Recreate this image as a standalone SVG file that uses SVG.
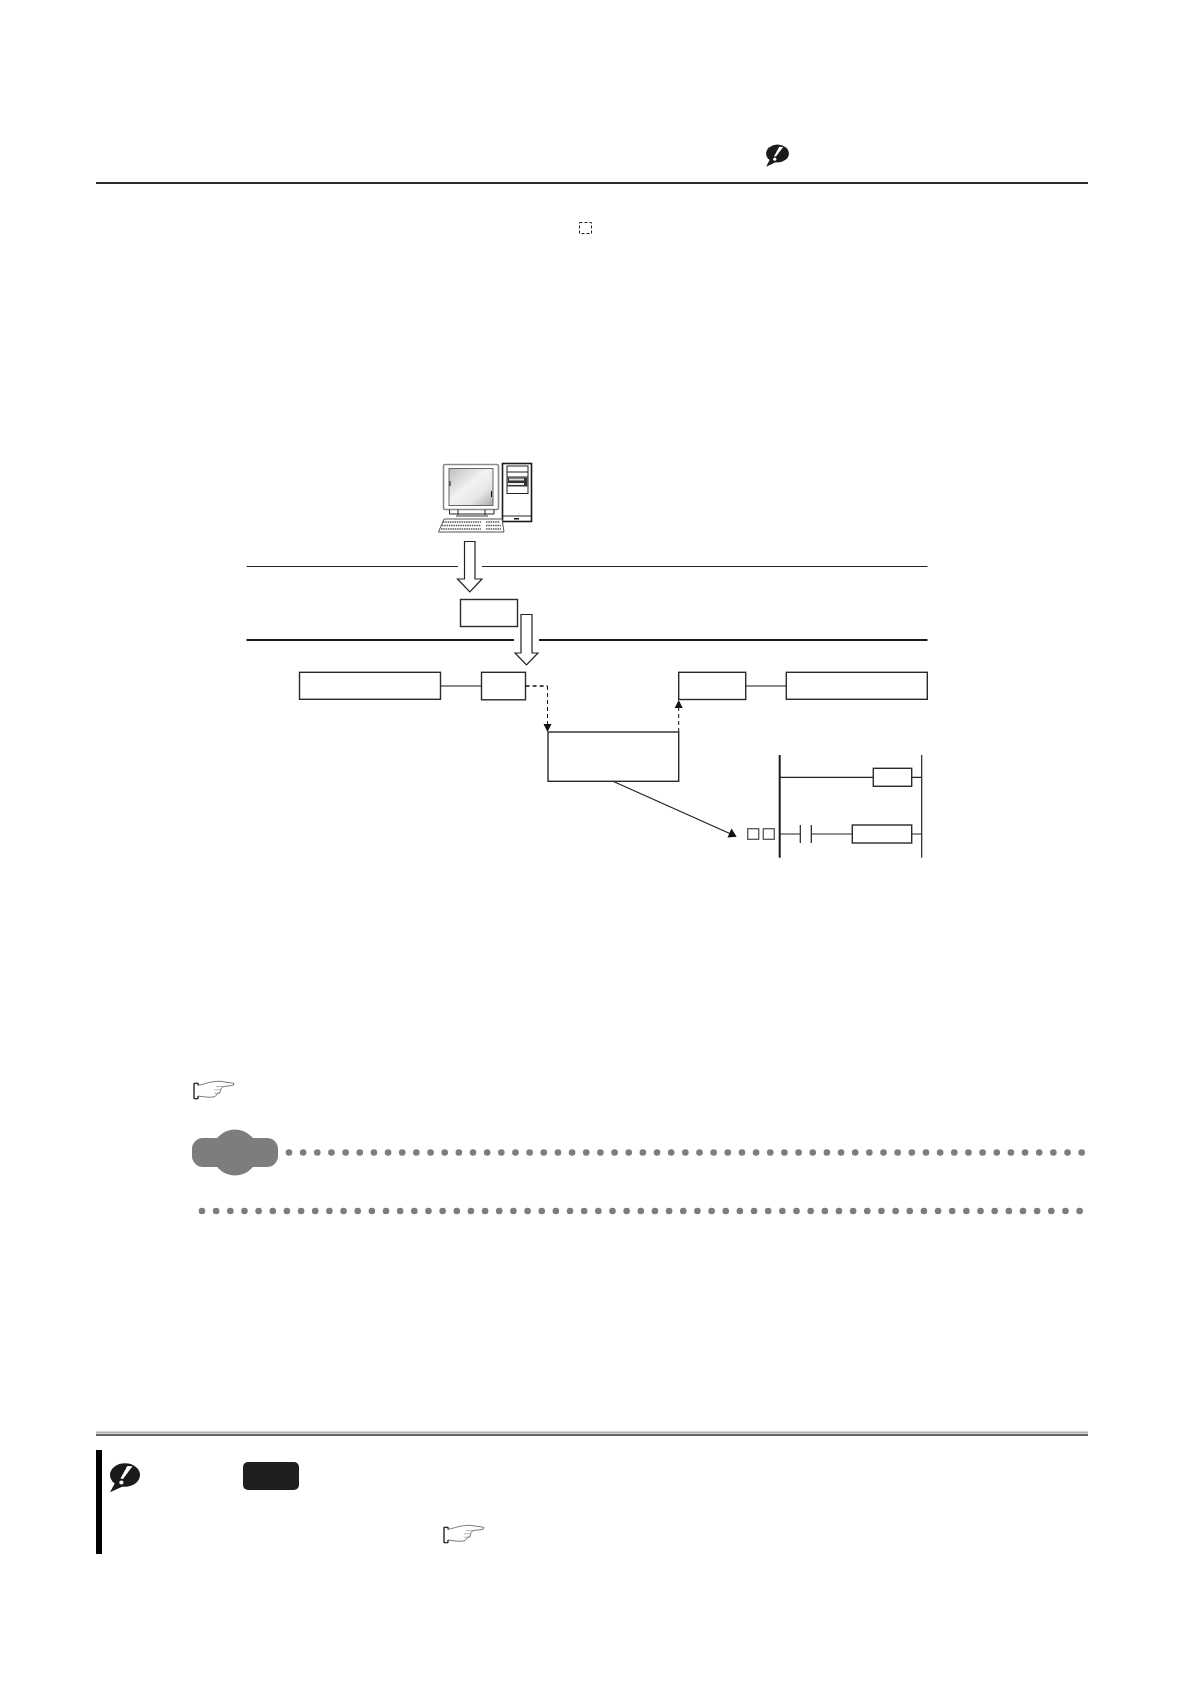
<svg xmlns="http://www.w3.org/2000/svg" width="1190" height="1684" viewBox="0 0 1190 1684">
<style>
.box{fill:#fff;stroke:#2a2a2a;stroke-width:1.4}
.wire{fill:none;stroke:#222;stroke-width:1.2}
.link{fill:none;stroke:#666;stroke-width:1.6}
.dash{fill:none;stroke:#111;stroke-width:1;stroke-dasharray:4 3}
.hollow{fill:#fff;stroke:#222;stroke-width:1.2;stroke-linejoin:miter}
.dots{fill:none;stroke:#7d7d7d;stroke-width:6.6;stroke-linecap:round;stroke-dasharray:0 14.155}
.hand{fill:#fff;stroke:#444;stroke-width:.7}
.hand-line{fill:none;stroke:#888;stroke-width:.6}
</style>
<defs>
<linearGradient id="screen" x1="0" y1="0" x2="1" y2="1"><stop offset="0" stop-color="#bdbdbd"/><stop offset=".45" stop-color="#f2f2f2"/><stop offset=".7" stop-color="#e8e8e8"/><stop offset="1" stop-color="#a8a8a8"/></linearGradient>
<g id="bubble"><ellipse cx="0" cy="0" rx="15" ry="11.700" fill="#1a1a1a"/><path d="M-9 6L-15 17.300L1 10Z" fill="#1a1a1a"/><path d="M2.300-9L7.500-8.700L-2 4L-4.500 3.500Z" fill="#fff"/><circle cx="-3.600" cy="7.500" r="2.100" fill="#fff"/></g>
<g id="hand"><path class="hand" d="M0 2.300V17.700H4V15C9 15.700 16 17 21 15.700L23 13L26 11.700L26.700 8.300L28.700 5.700L39.300 4.300L40 2.300L26 .3C16 .3 11 3 4.300 4.300V2.300Z"/><path d="M4 4.500V2.300H0V17.700H4V15" fill="none" stroke="#111" stroke-width="1"/><path class="hand-line" d="M22 5.500L29 5.500M20 9L27 8.500M20 12.500L26 11.700"/></g>
</defs>
<rect width="1190" height="1684" fill="#fff"/>

<g id="page-rules">
<line x1="96" y1="183" x2="1088" y2="183" stroke="#2c2c2c" stroke-width="2"/>
<line x1="96" y1="1432.500" x2="1088" y2="1432.500" stroke="#b0b0b0" stroke-width="2"/>
<line x1="96" y1="1435" x2="1088" y2="1435" stroke="#666" stroke-width="2"/>
<line x1="246.500" y1="566.500" x2="458" y2="566.500" stroke="#222" stroke-width="1"/>
<line x1="482" y1="566.500" x2="927.500" y2="566.500" stroke="#222" stroke-width="1"/>
<line x1="246.500" y1="640" x2="514" y2="640" stroke="#1a1a1a" stroke-width="2"/>
<line x1="539" y1="640" x2="927.500" y2="640" stroke="#1a1a1a" stroke-width="2"/>
</g>

<g id="header-bubble"><use href="#bubble" transform="translate(777.500 153.500) scale(.76)"/></g>
<g id="placeholder"><rect x="579.500" y="222.500" width="12" height="11" fill="none" stroke="#222" stroke-width="1" stroke-dasharray="3 2"/></g>

<g id="computer">
<rect x="443.500" y="464.500" width="55" height="45" rx="1.500" fill="#fff" stroke="#8a8a8a" stroke-width="1.600"/>
<rect x="449" y="468.500" width="44" height="37" fill="url(#screen)" stroke="#666" stroke-width="1"/>
<rect x="449.500" y="481" width="1" height="5" fill="#111"/><rect x="491" y="491" width="1" height="6" fill="#111"/>
<path d="M449.500 509.500V514H494V509.500M458 509.500V515M485 509.500V515" fill="none" stroke="#222" stroke-width="1"/>
<path d="M456 516H488" stroke="#999" stroke-width="2"/>
<rect x="502.500" y="463.500" width="29" height="58" fill="#fff" stroke="#1a1a1a" stroke-width="1.600"/>
<rect x="507" y="466" width="21" height="27.500" fill="#fff" stroke="#222" stroke-width="1"/>
<path d="M507 472H528M507 477H528" stroke="#222" stroke-width="1"/>
<rect x="507.500" y="477.500" width="20" height="9" fill="#333"/><rect x="509" y="478.500" width="15" height="2" fill="#ddd"/><rect x="508" y="483" width="16" height="2" fill="#eee"/>
<path d="M503 516H531" stroke="#222" stroke-width="1"/><rect x="514" y="518" width="5" height="1.500" fill="#111"/>
<path d="M438.500 532L444 519H502L504 532Z" fill="#fff" stroke="#555" stroke-width="1"/>
<path d="M443 522H481M442 525.500H481M441 529H481M486 522H500M486 525.500H501M486 529H501" stroke="#555" stroke-width="1.500" stroke-dasharray="1.500 .8"/>
</g>

<g id="down-arrow-1"><path class="hollow" d="M464.500 541.500H475V579H482L469.800 592L457.500 579H464.500Z"/></g>
<g id="file-box"><rect class="box" x="460.500" y="599.500" width="57" height="27"/></g>
<g id="down-arrow-2"><path class="hollow" d="M521 614.500H532V653H538L526.500 665L515 653H521Z"/></g>

<g id="connectors">
<line class="link" x1="440.500" y1="686" x2="481.500" y2="686"/>
<line class="link" x1="745.700" y1="686" x2="786.300" y2="686"/>
<path d="M525.600 686H547.500" fill="none" stroke="#111" stroke-width="1.600" stroke-dasharray="4 3"/>
<path class="dash" d="M547.500 686V726"/>
<path d="M543.500 724H551.500L547.500 732Z" fill="#111"/>
<path class="dash" d="M678.700 732V706"/>
<path d="M674.700 708H682.700L678.700 700Z" fill="#111"/>
<line x1="613.500" y1="781.500" x2="732" y2="834.500" stroke="#222" stroke-width="1.300"/>
<path d="M736.700 836.700L727.500 837.500L731.500 828.500Z" fill="#111"/>
</g>

<g id="node-a"><rect class="box" x="299.500" y="672.300" width="141" height="27"/></g>
<g id="node-b"><rect class="box" x="481.500" y="672.300" width="44" height="27.500"/></g>
<g id="node-c"><rect class="box" x="548" y="732" width="130.700" height="49.300"/></g>
<g id="node-d"><rect class="box" x="678.700" y="672.300" width="67" height="27.200"/></g>
<g id="node-e"><rect class="box" x="786.300" y="672.300" width="141" height="27"/></g>

<g id="ladder">
<rect x="747.700" y="828.700" width="11" height="10.600" fill="#fff" stroke="#555" stroke-width="1.300"/>
<rect x="763.300" y="828.700" width="11" height="10.600" fill="#fff" stroke="#555" stroke-width="1.300"/>
<line x1="779.700" y1="755" x2="779.700" y2="857.700" stroke="#1a1a1a" stroke-width="2"/>
<line x1="921.700" y1="755" x2="921.700" y2="857.700" stroke="#222" stroke-width="1.200"/>
<path class="wire" d="M780 777.300H873.300M911.700 777.300H921.700M780 834H800.300M811.300 834H852.300M911.700 834H921.700M800.300 825V843M811.300 825V843"/>
<rect class="box" x="873.300" y="768.300" width="38.400" height="18"/>
<rect class="box" x="852.300" y="825" width="59.400" height="18"/>
</g>

<g id="hand-1"><use href="#hand" transform="translate(194 1081)"/></g>

<g id="point-badge">
<rect x="192" y="1138" width="86" height="29" rx="11" fill="#7d7d7d"/>
<circle cx="235" cy="1152.500" r="23" fill="#7d7d7d"/>
</g>
<g id="dotted-rules">
<line class="dots" x1="289" y1="1152.500" x2="1084" y2="1152.500"/>
<line class="dots" x1="202" y1="1211" x2="1081" y2="1211"/>
</g>

<g id="note">
<rect x="96" y="1450" width="6" height="104" fill="#000"/>
<use href="#bubble" transform="translate(125 1475)"/>
<rect x="243" y="1462" width="56" height="28" rx="5" fill="#1f1f1f"/>
<use href="#hand" transform="translate(444 1525)"/>
</g>
</svg>
